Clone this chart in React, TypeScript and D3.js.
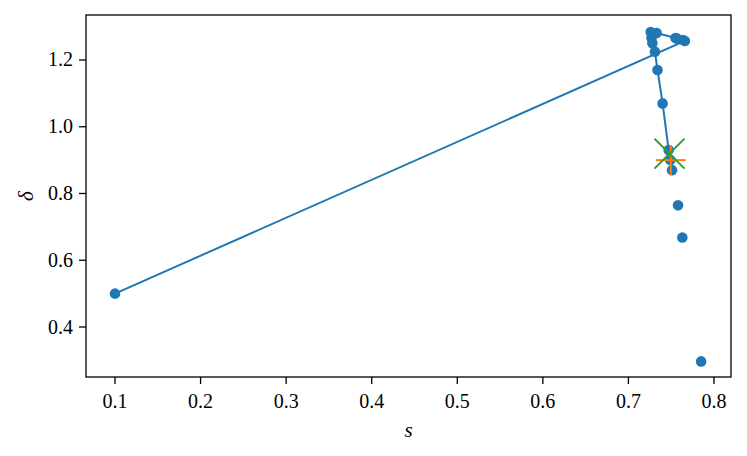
import React from "react";
import * as d3 from "d3";

const linePts: [number, number][] = [
  [0.1, 0.5],
  [0.766, 1.257],
  [0.764, 1.26],
  [0.757, 1.264],
  [0.755, 1.266],
  [0.733, 1.281],
  [0.726, 1.284],
  [0.727, 1.266],
  [0.728, 1.25],
  [0.731, 1.225],
  [0.734, 1.17],
  [0.74, 1.07],
  [0.747, 0.93],
  [0.749, 0.9],
  [0.751, 0.87],
];
const extraPts: [number, number][] = [
  [0.758, 0.765],
  [0.763, 0.668],
  [0.785, 0.297],
];
const plusPt: [number, number] = [0.7495, 0.9];
const crossPt: [number, number] = [0.748, 0.9195];
const xTicks = [0.1, 0.2, 0.3, 0.4, 0.5, 0.6, 0.7, 0.8];
const yTicks = [0.4, 0.6, 0.8, 1.0, 1.2];

const W = 747, H = 456;
const L = 86, R = 731, T = 15, B = 377;
const FONT = "'Liberation Serif', 'DejaVu Serif', serif";

export default function App() {
  const x = d3.scaleLinear().domain([0.0661, 0.8199]).range([L, R]);
  const y = d3.scaleLinear().domain([0.2502, 1.3348]).range([B, T]);
  const line = d3.line<[number, number]>().x((d) => x(d[0])).y((d) => y(d[1]));
  const allPts = [...linePts, ...extraPts];
  const ms = 15;
  const px = x(plusPt[0]), py = y(plusPt[1]);
  const cx = x(crossPt[0]), cy = y(crossPt[1]);
  return (
    <svg width={W} height={H} style={{ position: "fixed", left: 0, top: 0, background: "#fff" }}>
      <rect x={0} y={0} width={W} height={H} fill="#fff" />
      <path d={line(linePts) || ""} fill="none" stroke="#1f77b4" strokeWidth={2} />
      {allPts.map((d, i) => (
        <circle key={i} cx={x(d[0])} cy={y(d[1])} r={5.3} fill="#1f77b4" />
      ))}
      <g stroke="#ff7f0e" strokeWidth={2}>
        <line x1={px - ms} x2={px + ms} y1={py} y2={py} />
        <line x1={px} x2={px} y1={py - ms} y2={py + ms} />
      </g>
      <g stroke="#2ca02c" strokeWidth={2}>
        <line x1={cx - ms} x2={cx + ms} y1={cy - ms} y2={cy + ms} />
        <line x1={cx - ms} x2={cx + ms} y1={cy + ms} y2={cy - ms} />
      </g>
      <rect x={L} y={T} width={R - L} height={B - T} fill="none" stroke="#000" strokeWidth={1.3} />
      {xTicks.map((t) => (
        <g key={t}>
          <line x1={x(t)} x2={x(t)} y1={B} y2={B + 7} stroke="#000" strokeWidth={1.3} />
          <text x={x(t)} y={B + 31} textAnchor="middle" fontFamily={FONT} fontSize={20}>
            {t.toFixed(1)}
          </text>
        </g>
      ))}
      {yTicks.map((t) => (
        <g key={t}>
          <line x1={L - 7} x2={L} y1={y(t)} y2={y(t)} stroke="#000" strokeWidth={1.3} />
          <text x={L - 13} y={y(t) + 6.5} textAnchor="end" fontFamily={FONT} fontSize={20}>
            {t.toFixed(1)}
          </text>
        </g>
      ))}
      <text x={(L + R) / 2} y={437} textAnchor="middle" fontFamily={FONT} fontSize={21} fontStyle="italic">
        s
      </text>
      <text
        transform={`translate(33, ${(T + B) / 2}) rotate(-90)`}
        textAnchor="middle"
        fontFamily={FONT}
        fontSize={21}
        fontStyle="italic"
      >
        δ
      </text>
    </svg>
  );
}
